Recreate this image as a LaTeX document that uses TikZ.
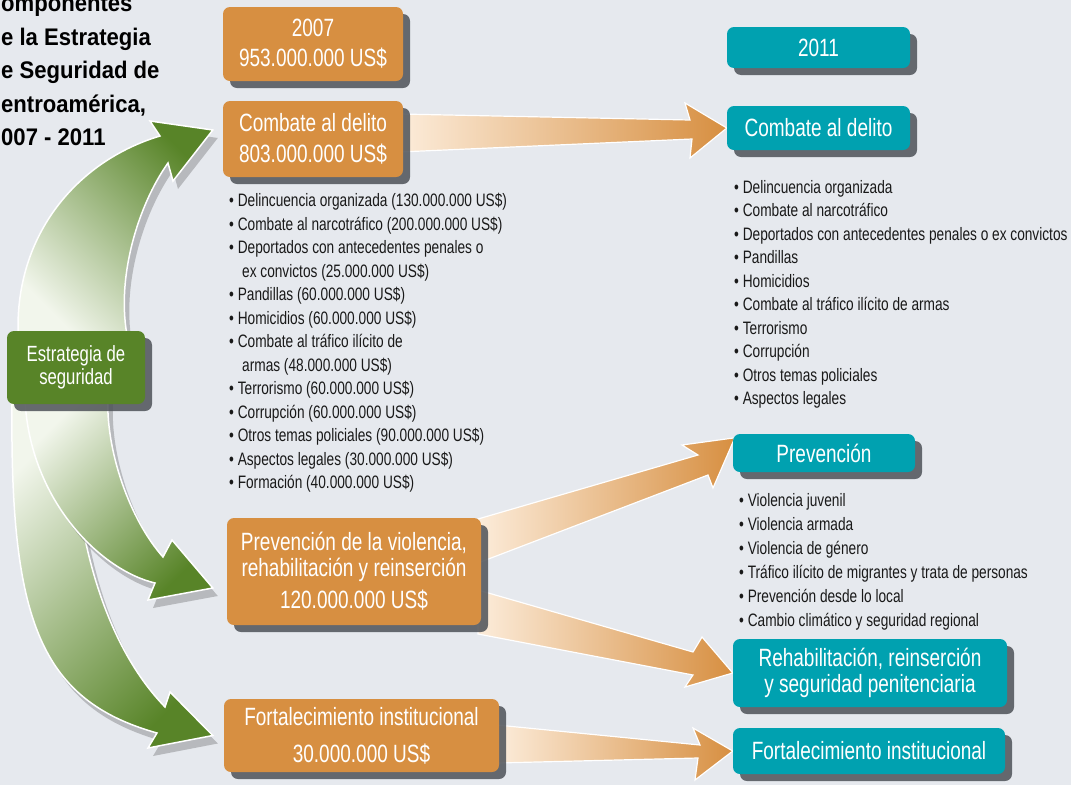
\documentclass[tikz,border=0pt]{standalone}
\usepackage{fontspec}
\setmainfont[FakeStretch=0.76]{Liberation Sans}
\newfontfamily\headfont[FakeStretch=0.92]{Liberation Sans}
\usetikzlibrary{shadows, calc}

\definecolor{bgblue}{RGB}{230,233,238}
\definecolor{boxorange}{RGB}{215,143,65}
\definecolor{boxteal}{RGB}{0,161,176}
\definecolor{boxgreen}{RGB}{88,132,40}
\definecolor{lightgreen}{RGB}{242,246,236}
\definecolor{lightorange}{RGB}{252,236,218}
\definecolor{shadowgray}{RGB}{78,82,88}

\pgfdeclarelayer{bg}
\pgfdeclarelayer{arrows}
\pgfsetlayers{bg,arrows,main}

\begin{document}
\begin{tikzpicture}[x=1pt,y=-1pt,font=\fontsize{25}{26}\selectfont,
  box/.style={rounded corners=7pt, text=white, align=center, inner sep=0pt,
    drop shadow={shadow xshift=7pt, shadow yshift=-7pt, fill=shadowgray, opacity=.85}},
  oldbox/.style={box, fill=boxorange},
  newbox/.style={box, fill=boxteal},
  listtext/.style={anchor=north west, align=left, inner sep=0pt, text=black!90,
    font=\fontsize{18}{23.5}\selectfont},
  greenarrow/.style={draw=white, line width=1.5pt, left color=lightgreen, right color=boxgreen,
    drop shadow={shadow xshift=5pt, shadow yshift=-8pt, fill=black!70, opacity=.3}},
  orangearrow/.style={draw=white, line width=1.2pt, left color=lightorange, right color=boxorange}]

  \useasboundingbox (0,0) rectangle (1071,785);
  \begin{pgfonlayer}{bg}
    \fill[bgblue] (0,0) rectangle (1071,785);
  \end{pgfonlayer}

  % Heading
  \node[anchor=north west, align=left, inner sep=0pt, text=black,
    font=\headfont\bfseries\fontsize{24}{33.5}\selectfont] (heading) at (1,-4)
    {omponentes\\e la Estrategia\\e Seguridad de\\entroamérica,\\007 - 2011};

  % Estrategia
  \node[box, fill=boxgreen, minimum width=138pt, minimum height=73pt,
    font=\fontsize{22}{23}\selectfont] (estr) at (76,367.5) {Estrategia de\\seguridad};

  % 2007
  \node[oldbox, minimum width=180pt, minimum height=74pt] (y2007) at (313,44) {2007\\[4pt]953.000.000 US\$};
  \node[oldbox, minimum width=180pt, minimum height=76pt] (comb07) at (313,139) {Combate al delito\\[5pt]803.000.000 US\$};
  \node[oldbox, minimum width=254pt, minimum height=107pt] (prev07) at (354,571.5) {Prevención de la violencia,\\rehabilitación y reinserción\\[6pt]120.000.000 US\$};
  \node[oldbox, minimum width=275pt, minimum height=73pt] (fort07) at (361.5,735.5) {Fortalecimiento institucional\\[11pt]30.000.000 US\$};

  % 2011
  \node[newbox, minimum width=183pt, minimum height=41pt] (y2011) at (818.5,47.5) {2011};
  \node[newbox, minimum width=183pt, minimum height=44pt] (comb11) at (818.5,128) {Combate al delito};
  \node[newbox, minimum width=182pt, minimum height=38pt] (prev11) at (824,453) {Prevención};
  \node[newbox, minimum width=274pt, minimum height=68pt] (rehab11) at (870,673) {Rehabilitación, reinserción\\y seguridad penitenciaria};
  \node[newbox, minimum width=272pt, minimum height=46pt] (fort11) at (869,751) {Fortalecimiento institucional};

  % Lists
  \node[listtext] (crimes07) at (229,193) {• Delincuencia organizada (130.000.000 US\$)\\
    • Combate al narcotráfico (200.000.000 US\$)\\
    • Deportados con antecedentes penales o\\
    \hspace*{13pt}ex convictos (25.000.000 US\$)\\
    • Pandillas (60.000.000 US\$)\\
    • Homicidios (60.000.000 US\$)\\
    • Combate al tráfico ilícito de\\
    \hspace*{13pt}armas (48.000.000 US\$)\\
    • Terrorismo (60.000.000 US\$)\\
    • Corrupción (60.000.000 US\$)\\
    • Otros temas policiales (90.000.000 US\$)\\
    • Aspectos legales (30.000.000 US\$)\\
    • Formación (40.000.000 US\$)};
  \node[listtext] (crimes11) at (734,180) {• Delincuencia organizada\\
    • Combate al narcotráfico\\
    • Deportados con antecedentes penales o ex convictos\\
    • Pandillas\\
    • Homicidios\\
    • Combate al tráfico ilícito de armas\\
    • Terrorismo\\
    • Corrupción\\
    • Otros temas policiales\\
    • Aspectos legales};
  \node[listtext, font=\fontsize{18}{24}\selectfont] (prevlist) at (739,493) {• Violencia juvenil\\
    • Violencia armada\\
    • Violencia de género\\
    • Tráfico ilícito de migrantes y trata de personas\\
    • Prevención desde lo local\\
    • Cambio climático y seguridad regional};

  \begin{pgfonlayer}{arrows}
    % Green arrows
    \coordinate (gtip1) at ($(comb07.west)+(-10,-9)$);
    \coordinate (gtip2) at ($(prev07.west)+(-14,16.5)$);
    \coordinate (gtip3) at ($(fort07.west)+(-11,0)$);
    \path[greenarrow, shading angle=45] (12,395) -- (12,404) .. controls (10,620) and (40,700) .. (157,733)
      -- (148,748) -- (gtip3) -- (170,692) -- (165,707) .. controls (100,640) and (70,520) .. (72,395) -- cycle;
    \path[greenarrow, shading angle=45] (25,395) -- (25,400) .. controls (30,500) and (100,570) .. (155,583)
      -- (148,600) -- (gtip2) -- (172,540) -- (163,557) .. controls (130,520) and (105,450) .. (108,395) -- cycle;
    \path[greenarrow, shading angle=135] (18,340) -- (18,327) .. controls (18,230) and (80,160) .. (160,136)
      -- (150,121) -- (gtip1) -- (173,181) -- (168,163) .. controls (138,205) and (115,280) .. (128,340) -- cycle;

    % Orange arrows
    \path[orangearrow] (400,114) -- (690,120) -- (685,103) -- (comb11.west) -- (690,158) -- (692,139) -- (400,152) -- cycle;
    \path[orangearrow] (478,519) -- (698,455) -- (682,445) -- ($(prev11.north west)+(2,4)$) -- (713,488) -- (708,475) -- (478,563) -- cycle;
    \path[orangearrow] (478,590) -- (693,652) -- (702,637) -- (rehab11.west) -- (685,687) -- (693,675) -- (478,634) -- cycle;
    \path[orangearrow] (497,725) -- (700,745) -- (693,728) -- (fort11.west) -- (695,780) -- (698,758) -- (497,763) -- cycle;
  \end{pgfonlayer}
\end{tikzpicture}
\end{document}
